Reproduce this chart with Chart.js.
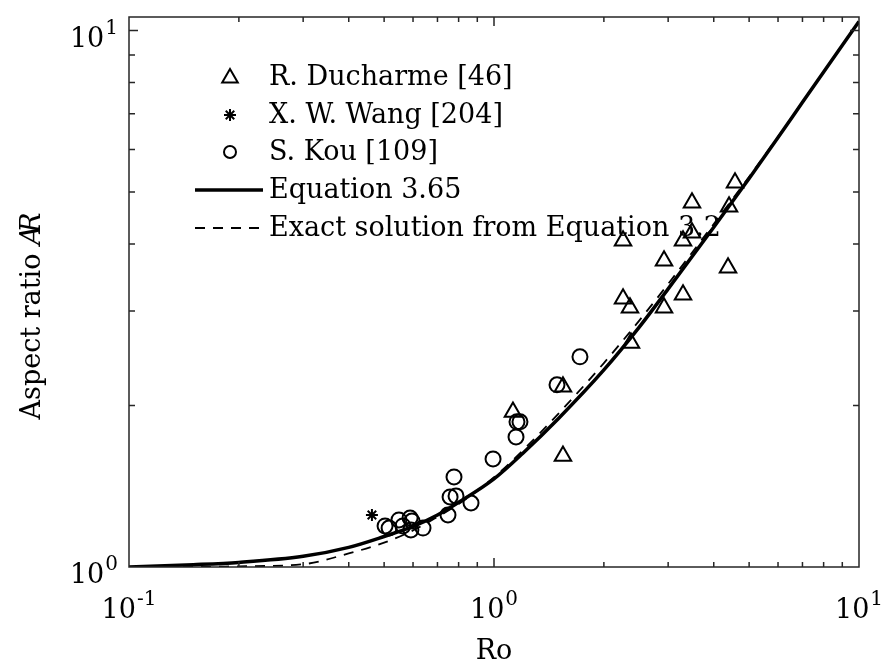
<!DOCTYPE html>
<html><head><meta charset="utf-8">
<script src="https://cdn.jsdelivr.net/npm/chart.js@4"></script>
<style>html,body{margin:0;padding:0;background:#fff}canvas{display:block}</style>
</head><body>
<canvas id="c" width="881" height="667"></canvas>
<script>
// ---- data ----
const curveRo = [0.1, 0.15, 0.2, 0.3, 0.4, 0.5, 0.6, 0.7, 0.8, 1.0, 1.2, 1.5, 2, 2.5, 3, 4, 5, 6, 7, 8, 10];
const eq365   = [1.0, 1.01, 1.02, 1.047, 1.088, 1.14, 1.19, 1.25, 1.32, 1.46, 1.63, 1.89, 2.33, 2.80, 3.30, 4.30, 5.30, 6.32, 7.35, 8.37, 10.4];
const exact32 = [1.0, 1.0, 1.003, 1.012, 1.06, 1.11, 1.17, 1.24, 1.31, 1.47, 1.65, 1.93, 2.40, 2.88, 3.37, 4.36, 5.34, 6.34, 7.36, 8.38, 10.4];

const ducharmeRo = [1.127, 1.545, 1.545, 2.257, 2.257, 2.358, 2.373, 2.923, 2.923, 3.295, 3.295, 3.487, 3.487, 4.377, 4.405, 4.574];
const ducharmeAR = [1.946, 2.167, 1.611, 4.058, 3.162, 3.042, 2.617, 3.724, 3.042, 4.058, 3.217, 4.200, 4.777, 3.613, 4.695, 5.204];

const wangRo = [0.463];
const wangAR = [1.250];

const kouRo = [0.503, 0.516, 0.549, 0.563, 0.589, 0.596, 0.592, 0.639, 0.748, 0.758, 0.787, 0.777, 0.865, 0.994, 1.149, 1.156, 1.178, 1.488, 1.720];
const kouAR = [1.193, 1.182, 1.224, 1.193, 1.234, 1.218, 1.172, 1.182, 1.250, 1.351, 1.357, 1.472, 1.316, 1.590, 1.748, 1.865, 1.865, 2.186, 2.465];

const xTickValues = [0.1, 1, 10];
const xTickExp = ['-1', '0', '1'];
const yTickValues = [1, 10];
const yTickExp = ['0', '1'];
const legendLabels = ['R. Ducharme [46]', 'X. W. Wang [204]', 'S. Kou [109]', 'Equation 3.65', 'Exact solution from Equation 3.2'];
const xTitle = 'Ro';
const yTitle = 'Aspect ratio ';

const pts = (xs, ys) => xs.map((x, i) => ({x: x, y: ys[i]}));

const FONT = '"DejaVu Serif", "Liberation Serif", serif';
const FS = 27;
const AXC = '#262626';

function drawMarker(ctx, type, x, y) {
  ctx.save();
  ctx.strokeStyle = '#000';
  ctx.lineWidth = 2;
  ctx.beginPath();
  if (type === 'tri') {
    const r = 9;
    for (let k = 0; k < 3; k++) {
      const a = -Math.PI / 2 + k * 2 * Math.PI / 3;
      const px = x + r * Math.cos(a), py = y + r * Math.sin(a);
      if (k === 0) ctx.moveTo(px, py); else ctx.lineTo(px, py);
    }
    ctx.closePath();
  } else if (type === 'circ') {
    ctx.arc(x, y, 6, 0, Math.PI * 2);
  } else if (type === 'star') {
    const r = 6;
    for (let k = 0; k < 4; k++) {
      const a = k * Math.PI / 4;
      ctx.moveTo(x - r * Math.cos(a), y - r * Math.sin(a));
      ctx.lineTo(x + r * Math.cos(a), y + r * Math.sin(a));
    }
  }
  ctx.stroke();
  ctx.restore();
}

function drawPow(ctx, base, exp, x, y, align) {
  ctx.save();
  ctx.fillStyle = '#000';
  ctx.textBaseline = 'alphabetic';
  ctx.font = FS + 'px ' + FONT;
  const wb = ctx.measureText(base).width;
  ctx.font = Math.round(FS * 0.74) + 'px ' + FONT;
  const we = ctx.measureText(exp).width;
  const tot = wb + we + 1;
  let x0 = align === 'center' ? x - tot / 2 : x - tot;
  ctx.font = FS + 'px ' + FONT;
  ctx.fillText(base, x0, y);
  ctx.font = Math.round(FS * 0.74) + 'px ' + FONT;
  ctx.fillText(exp, x0 + wb + 1, y - 13);
  ctx.restore();
}

const decor = {
  id: 'decor',
  afterDraw(chart) {
    const ctx = chart.ctx;
    const a = chart.chartArea;
    const xs = chart.scales.x, ys = chart.scales.y;
    ctx.save();
    // box
    ctx.strokeStyle = AXC;
    ctx.lineWidth = 1.5;
    ctx.strokeRect(a.left, a.top, a.right - a.left, a.bottom - a.top);
    // ticks
    const xt = [];
    [0.1, 1].forEach(d => { for (let k = 1; k <= 9; k++) xt.push([d * k, k === 1]); });
    xt.push([10, true]);
    ctx.beginPath();
    xt.forEach(([v, maj]) => {
      const px = xs.getPixelForValue(v);
      const L = maj ? 9 : 5;
      if (px <= a.left + 1 || px >= a.right - 1) return;
      ctx.moveTo(px, a.bottom); ctx.lineTo(px, a.bottom - L);
      ctx.moveTo(px, a.top); ctx.lineTo(px, a.top + L);
    });
    const yt = [];
    for (let k = 1; k <= 9; k++) yt.push([k, k === 1]);
    yt.push([10, true]);
    yt.forEach(([v, maj]) => {
      const py = ys.getPixelForValue(v);
      const L = maj ? 9 : 6;
      if (py >= a.bottom - 1 || py <= a.top + 1) return;
      ctx.moveTo(a.left, py); ctx.lineTo(a.left + L, py);
      ctx.moveTo(a.right, py); ctx.lineTo(a.right - L, py);
    });
    ctx.stroke();
    // tick labels
    xTickValues.forEach((v, i) => drawPow(ctx, '10', xTickExp[i], xs.getPixelForValue(v), a.bottom + 51, 'center'));
    yTickValues.forEach((v, i) => drawPow(ctx, '10', yTickExp[i], a.left - 11, ys.getPixelForValue(v) + 16, 'right'));
    // x title
    ctx.fillStyle = '#000';
    ctx.font = FS + 'px ' + FONT;
    ctx.textAlign = 'center';
    ctx.textBaseline = 'alphabetic';
    ctx.fillText(xTitle, (a.left + a.right) / 2, 659);
    // y title
    ctx.save();
    ctx.translate(40, 316);
    ctx.rotate(-Math.PI / 2);
    ctx.textAlign = 'left';
    ctx.font = FS + 'px ' + FONT;
    const w1 = ctx.measureText(yTitle).width;
    ctx.font = 'italic ' + FS + 'px ' + FONT;
    const wA = ctx.measureText('A').width, wR = ctx.measureText('R').width;
    const ov = wA * 0.38;
    const tot = w1 + wA + wR - ov;
    let sx = -tot / 2;
    ctx.font = FS + 'px ' + FONT;
    ctx.fillText(yTitle, sx, 0);
    ctx.font = 'italic ' + FS + 'px ' + FONT;
    ctx.fillText('A', sx + w1, 0);
    ctx.fillText('R', sx + w1 + wA - ov, 0);
    ctx.restore();
    // legend
    const rows = [77, 115, 152, 190, 228];
    drawMarker(ctx, 'tri', 230, rows[0] + 1);
    drawMarker(ctx, 'star', 230, rows[1]);
    drawMarker(ctx, 'circ', 230, rows[2]);
    ctx.strokeStyle = '#000';
    ctx.lineWidth = 3.5;
    ctx.setLineDash([]);
    ctx.beginPath(); ctx.moveTo(195, rows[3]); ctx.lineTo(263, rows[3]); ctx.stroke();
    ctx.lineWidth = 1.8;
    ctx.setLineDash([10, 8]);
    ctx.beginPath(); ctx.moveTo(195, rows[4]); ctx.lineTo(263, rows[4]); ctx.stroke();
    ctx.setLineDash([]);
    ctx.fillStyle = '#000';
    ctx.font = FS + 'px ' + FONT;
    ctx.textAlign = 'left';
    ctx.textBaseline = 'middle';
    legendLabels.forEach((t, i) => ctx.fillText(t, 269, rows[i] + 1));
    ctx.restore();
  }
};

const triStyle = {pointStyle: 'triangle', pointRadius: 9.5, pointBorderWidth: 2, pointBorderColor: '#000', pointBackgroundColor: 'rgba(0,0,0,0)', showLine: false};
const circStyle = {pointStyle: 'circle', pointRadius: 7.5, pointBorderWidth: 2, pointBorderColor: '#000', pointBackgroundColor: 'rgba(0,0,0,0)', showLine: false};
const starStyle = {pointStyle: 'star', pointRadius: 6, pointBorderWidth: 2, pointBorderColor: '#000', pointBackgroundColor: 'rgba(0,0,0,0)', showLine: false};

new Chart(document.getElementById('c'), {
  type: 'scatter',
  data: {
    datasets: [
      Object.assign({label: legendLabels[0], data: pts(ducharmeRo, ducharmeAR)}, triStyle),
      Object.assign({label: legendLabels[1], data: pts(wangRo, wangAR)}, starStyle),
      Object.assign({label: legendLabels[2], data: pts(kouRo, kouAR)}, circStyle),
      {label: legendLabels[3], data: pts(curveRo, eq365), showLine: true, borderColor: '#000', borderWidth: 3.5, pointRadius: 0, cubicInterpolationMode: 'monotone', fill: false},
      {label: legendLabels[4], data: pts(curveRo, exact32), showLine: true, borderColor: '#000', borderWidth: 1.8, borderDash: [10, 8], pointRadius: 0, cubicInterpolationMode: 'monotone', fill: false}
    ]
  },
  options: {
    responsive: false,
    animation: false,
    devicePixelRatio: 1,
    layout: {padding: {left: 129, right: 22, top: 17, bottom: 100}},
    plugins: {legend: {display: false}, tooltip: {enabled: false}},
    scales: {
      x: {type: 'logarithmic', display: false, min: 0.1, max: 10},
      y: {type: 'logarithmic', display: false, min: 1, max: 10.6}
    }
  },
  plugins: [decor]
});
</script>
</body></html>
